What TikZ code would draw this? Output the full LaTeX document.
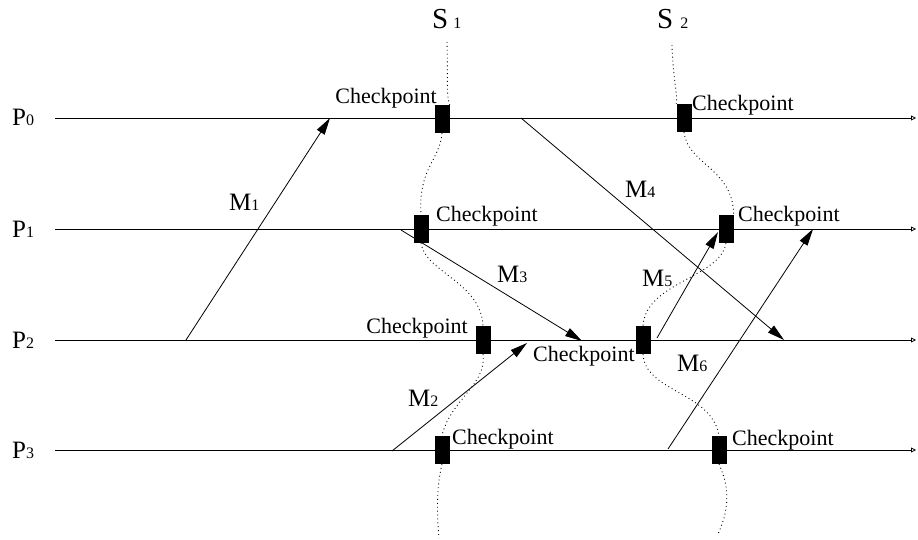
\documentclass[tikz,border=0pt]{standalone}
\usepackage{fontspec}
\setmainfont{Liberation Serif}
\usetikzlibrary{arrows.meta}
\newcommand\smallsub[1]{{\fontsize{16}{18}\selectfont #1}}
\begin{document}
\begin{tikzpicture}[x=1pt,y=-1pt,
  proc/.style={line width=0.8pt,-{Triangle[open,length=5pt,width=5pt]}},
  msg/.style={line width=0.8pt,-{Triangle[length=17pt,width=9pt]}},
  cut/.style={line width=0.9pt,dash pattern=on 0.9pt off 3pt},
  ckbox/.style={fill=black,minimum width=15pt,minimum height=28pt,inner sep=0pt},
  cklabel/.style={font=\fontsize{22}{24}\selectfont,inner sep=0pt},
  plabel/.style={font=\fontsize{25}{28}\selectfont,inner sep=0pt,anchor=base west},
  mlabel/.style={font=\fontsize{25}{28}\selectfont,inner sep=0pt,anchor=base west},
  slabel/.style={font=\fontsize{29}{32}\selectfont,inner sep=0pt,anchor=base west}]
\useasboundingbox (0,0) rectangle (918,540);

% process lines
\coordinate (p0s) at (55,118); \coordinate (p0e) at (916,118);
\coordinate (p1s) at (55,229); \coordinate (p1e) at (916,229);
\coordinate (p2s) at (55,340); \coordinate (p2e) at (916,340);
\coordinate (p3s) at (55,450); \coordinate (p3e) at (916,450);
\draw[proc] (p0s) -- (p0e);
\draw[proc] (p1s) -- (p1e);
\draw[proc] (p2s) -- (p2e);
\draw[proc] (p3s) -- (p3e);

\node[plabel] (lp0) at (12,126) {P\smallsub{0}};
\node[plabel] (lp1) at (12,237) {P\smallsub{1}};
\node[plabel] (lp2) at (12,348) {P\smallsub{2}};
\node[plabel] (lp3) at (12,458) {P\smallsub{3}};

% checkpoint boxes
\node[ckbox] (c01) at (442,119) {};
\node[ckbox] (c02) at (684,118) {};
\node[ckbox] (c11) at (421,229) {};
\node[ckbox] (c12) at (726,229) {};
\node[ckbox] (c21) at (483,340) {};
\node[ckbox] (c22) at (643,340) {};
\node[ckbox] (c31) at (442,450) {};
\node[ckbox] (c32) at (719,450) {};

% cut lines S1, S2
\coordinate (s1top) at (447,42);
\coordinate (s1bot) at (439,538);
\coordinate (s2top) at (672,45);
\coordinate (s2bot) at (718,534);
\draw[cut] (s1top) .. controls (448,75) and (446,95) .. (c01.north east);
\draw[cut] (c01.south) .. controls (440,160) and (418,168) .. (c11.north);
\draw[cut] (c11.south) .. controls (425,272) and (481,282) .. (c21.north);
\draw[cut] (c21.south) .. controls (487,385) and (450,400) .. (c31.north);
\draw[cut] (c31.south) .. controls (436,490) and (437,515) .. (s1bot);
\draw[cut] (s2top) .. controls (673,80) and (678,95) .. (c02.north west);
\draw[cut] (c02.south) .. controls (688,165) and (733,168) .. (c12.north east);
\draw[cut] (c12.south) .. controls (720,278) and (646,282) .. (c22.north);
\draw[cut] (c22.south) .. controls (645,392) and (712,392) .. (c32.north);
\draw[cut] (c32.south) .. controls (731,490) and (728,512) .. (s2bot);

\node[slabel] (s1) at (432,29) {S\hspace{5pt}\smallsub{1}};
\node[slabel] (s2) at (657,29) {S\hspace{7pt}\smallsub{2}};

% checkpoint labels
\node[cklabel,anchor=base east] (k01) at (437,104) {Checkpoint};
\node[cklabel,anchor=base west] (k02) at (692,111) {Checkpoint};
\node[cklabel,anchor=base west] (k11) at (436,222) {Checkpoint};
\node[cklabel,anchor=base west] (k12) at (738,222) {Checkpoint};
\node[cklabel,anchor=base east] (k21) at (468,333) {Checkpoint};
\node[cklabel,anchor=base west] (k22) at (533,361) {Checkpoint};
\node[cklabel,anchor=base west] (k31) at (452,444) {Checkpoint};
\node[cklabel,anchor=base west] (k32) at (732,445) {Checkpoint};

% messages
\coordinate (m1s) at (186,340); \coordinate (m1e) at (330,118);
\coordinate (m2s) at (392,451); \coordinate (m2e) at (527,343);
\coordinate (m3s) at (401,230); \coordinate (m3e) at (582,341);
\coordinate (m4s) at (521,118); \coordinate (m4e) at (784,340);
\coordinate (m5s) at (657,338); \coordinate (m5e) at (718,232);
\coordinate (m6s) at (668,449); \coordinate (m6e) at (813,229);
\draw[msg] (m1s) -- (m1e);
\draw[msg] (m2s) -- (m2e);
\draw[msg] (m3s) -- (m3e);
\draw[msg] (m4s) -- (m4e);
\draw[msg] (m5s) -- (m5e);
\draw[msg] (m6s) -- (m6e);

\node[mlabel] (lm1) at (229,211) {M\smallsub{1}};
\node[mlabel] (lm2) at (408,406) {M\smallsub{2}};
\node[mlabel] (lm3) at (497,282) {M\smallsub{3}};
\node[mlabel] (lm4) at (625,198) {M\smallsub{4}};
\node[mlabel] (lm5) at (642,286) {M\smallsub{5}};
\node[mlabel] (lm6) at (677,371) {M\smallsub{6}};
\end{tikzpicture}
\end{document}
